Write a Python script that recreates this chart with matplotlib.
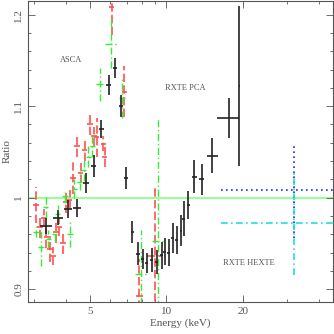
import matplotlib
matplotlib.use('Agg')
import matplotlib.pyplot as plt
from matplotlib.ticker import FixedLocator, FixedFormatter, MultipleLocator, NullFormatter

# PCA (black crosses)
pca_e = [3.35, 3.73, 4.08, 4.44, 4.82, 5.17, 5.54, 5.92, 6.25, 6.60, 6.95, 7.34, 7.72, 8.06, 8.36,
         8.74, 9.15, 9.57, 9.84, 10.2, 10.6, 10.98, 11.4, 11.7, 12.2, 12.9, 13.8, 15.2, 17.6, 19.4]
pca_r = [0.969, 0.978, 0.988, 0.989, 1.016, 1.035, 1.075, 1.123, 1.142, 1.100, 1.021, 0.963, 0.939, 0.933, 0.929,
         0.932, 0.930, 0.937, 0.941, 0.940, 0.956, 0.954, 0.964, 0.977, 0.992, 1.023, 1.020, 1.046, 1.087, 1.122]
pca_err = [0.009, 0.008, 0.010, 0.010, 0.011, 0.012, 0.010, 0.011, 0.011, 0.012, 0.012, 0.012, 0.013, 0.011, 0.011,
           0.013, 0.013, 0.015, 0.015, 0.015, 0.016, 0.015, 0.017, 0.019, 0.015, 0.018, 0.017, 0.019, 0.022, 0.087]
pca_xerr = [0.18, 0.17, 0.15, 0.15, 0.12, 0.12, 0.12, 0.13, 0.12, 0.12, 0.12, 0.12, 0.12, 0.12, 0.12,
            0.12, 0.13, 0.13, 0.13, 0.13, 0.13, 0.13, 0.13, 0.13, 0.15, 0.25, 0.30, 0.75, 1.70, 0.10]

# ASCA (red dashed)
red_e = [3.06, 3.17, 3.27, 3.36, 3.47, 3.56, 3.66, 3.78, 3.90, 4.02, 4.15, 4.28, 4.44, 4.58, 4.75,
         5.00, 5.17, 5.30, 5.64, 5.70, 6.08, 6.82, 7.80, 9.00]
red_r = [0.992, 0.968, 0.978, 0.957, 0.944, 0.936, 0.962, 0.968, 0.951, 0.995, 0.998, 1.022, 1.056, 1.027, 1.052,
         1.080, 1.067, 1.066, 1.059, 1.045, 1.208, 1.116, 0.893, 0.936]
red_err = [0.020, 0.012, 0.010, 0.012, 0.014, 0.010, 0.012, 0.010, 0.012, 0.012, 0.010, 0.018, 0.012, 0.011, 0.012,
           0.011, 0.010, 0.021, 0.008, 0.012, 0.030, 0.028, 0.040, 0.075]

# ASCA (green dash-dot)
green_e = [3.05, 3.20, 3.33, 3.42, 3.62, 3.72, 3.98, 4.16, 4.33, 4.55, 4.72, 4.92, 5.09, 5.45, 6.05, 6.70, 7.95, 9.30]
green_r = [0.963, 0.946, 0.990, 0.955, 0.960, 0.982, 1.002, 0.960, 1.010, 1.017, 1.030, 1.045, 1.056, 1.124,
           1.168, 1.109, 0.917, 0.953]
green_err = [0.006, 0.021, 0.012, 0.010, 0.008, 0.010, 0.008, 0.014, 0.010, 0.009, 0.012, 0.012, 0.012, 0.018,
             0.026, 0.022, 0.048, 0.134]
green_xerr = [0.08, 0.08, 0.08, 0.08, 0.09, 0.09, 0.10, 0.10, 0.10, 0.11, 0.11, 0.12, 0.12, 0.20, 0.33, 0.18, 0.43, 0.55]

# HEXTE
hexte_e = [32.0]
blue_r = [1.008]
blue_err = [0.052]
cyan_r = [0.972]
cyan_err = [0.056]
hexte_xlo = [15.5]
hexte_xhi = [30.0]

plt.rcParams['font.family'] = ['Liberation Serif', 'DejaVu Serif']
grey = '#555555'

fig = plt.figure(figsize=(3.34, 3.34), dpi=100)
ax = fig.add_axes([28 / 334, 32 / 334, 305 / 334, 301.5 / 334])

ax.axhline(1.0, color='#99ff99', lw=1.5, zorder=1)

red_xerr = [0.025 * e for e in red_e]
red_xerr[-2] = 0.25
red_xerr[-1] = 0.65
eb = ax.errorbar(red_e, red_r, yerr=red_err, xerr=red_xerr, fmt='none', ecolor='#ff5050', elinewidth=1.2)
eb[2][0].set_linestyle((0, (5, 2)))
eb[2][1].set_linestyle((0, (5, 2)))

eb = ax.errorbar(green_e, green_r, yerr=green_err, xerr=green_xerr, fmt='none', ecolor='#33ee33', elinewidth=1.0)
eb[2][0].set_linestyle((0, (5, 2, 1, 2)))
eb[2][1].set_linestyle((0, (5, 2, 1, 2)))

ax.errorbar(pca_e, pca_r, yerr=pca_err, xerr=pca_xerr, fmt='none', ecolor='#222222', elinewidth=1.2, zorder=3)

eb = ax.errorbar(hexte_e, blue_r, yerr=blue_err, xerr=[hexte_xlo, hexte_xhi], fmt='none', ecolor='#2222ff',
                 elinewidth=1.2)
eb[2][0].set_linestyle((0, (1, 2)))
eb[2][1].set_linestyle((0, (1, 2)))
eb = ax.errorbar(hexte_e, cyan_r, yerr=cyan_err, xerr=[hexte_xlo, hexte_xhi], fmt='none', ecolor='#22dddd',
                 elinewidth=1.2)
eb[2][0].set_linestyle((0, (4, 2, 1, 2)))
eb[2][1].set_linestyle((0, (4, 2, 1, 2)))

ax.set_xscale('log')
ax.set_xlim(2.84, 45.5)
ax.set_ylim(0.886, 1.2155)

ax.xaxis.set_major_locator(FixedLocator([5, 10, 20]))
ax.xaxis.set_major_formatter(FixedFormatter(['5', '10', '20']))
ax.xaxis.set_minor_locator(FixedLocator([3, 4, 6, 7, 8, 9, 30, 40]))
ax.xaxis.set_minor_formatter(NullFormatter())
ax.yaxis.set_major_locator(FixedLocator([0.9, 1.0, 1.1, 1.2]))
ax.yaxis.set_major_formatter(FixedFormatter(['0.9', '1', '1.1', '1.2']))
ax.yaxis.set_minor_locator(MultipleLocator(0.02))

ax.tick_params(which='both', direction='in', top=True, right=True, colors=grey, labelsize=8)
ax.tick_params(which='major', length=5, width=0.6)
ax.tick_params(which='minor', length=2.5, width=0.6)
for lab in ax.get_yticklabels():
    lab.set_rotation(90)
    lab.set_va('center')
for s in ax.spines.values():
    s.set_color(grey)
    s.set_linewidth(0.8)

ax.set_xlabel('Energy (keV)', color=grey, fontsize=8, labelpad=2)
ax.set_ylabel('Ratio', color=grey, fontsize=8, labelpad=2)

ax.text(4.2, 1.151, 'ASCA', color=grey, fontsize=6, ha='center', va='center')
ax.text(11.9, 1.12, 'RXTE PCA', color=grey, fontsize=6, ha='center', va='center')
ax.text(21.2, 0.929, 'RXTE HEXTE', color=grey, fontsize=6, ha='center', va='center')

fig.savefig('out.png', dpi=100)
